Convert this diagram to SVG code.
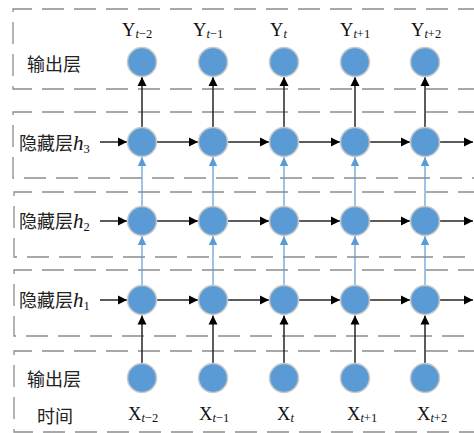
<svg xmlns="http://www.w3.org/2000/svg" width="474" height="433" viewBox="0 0 474 433">
<style>
.box{fill:none;stroke:#8c8c8c;stroke-width:1.3;stroke-dasharray:22 10}
.node{fill:#5B9BD5;stroke:#c9c9c9;stroke-width:1.5}
.blk{stroke:#262626;stroke-width:1.5;fill:none;marker-end:url(#ab)}
.blu{stroke:#5B9BD5;stroke-width:1.2;fill:none;marker-end:url(#au)}
.cjk{font-family:"Noto Sans CJK SC","Noto Sans CJK JP",sans-serif;font-size:18px;fill:#222}
.lbl{font-family:"Liberation Serif",serif;font-size:18.5px;fill:#111}
.sub{font-size:12.5px}
.it{font-style:italic}
.h{font-family:"Liberation Serif",serif;font-style:italic;font-size:21px;fill:#111}
</style>
<defs>
<marker id="ab" markerUnits="userSpaceOnUse" markerWidth="10" markerHeight="10" refX="9" refY="5" orient="auto">
<path d="M0,0.5 L9,5 L0,9.5 Z" fill="#000"/>
</marker>
<marker id="au" markerUnits="userSpaceOnUse" markerWidth="10" markerHeight="10" refX="9" refY="5" orient="auto">
<path d="M0,0.8 L9,5 L0,9.2 Z" fill="#5B9BD5"/>
</marker>
</defs>
<g id="boxes">
<path class="box" d="M480 9 H13 V89 H480"/>
<path class="box" d="M480 112 H13 V178 H480"/>
<path class="box" d="M480 192 H14 V257 H480"/>
<path class="box" d="M480 270 H14 V336 H480"/>
<path class="box" d="M480 351 H14 V432 H480"/>
</g>
<g id="labels">
<text class="cjk" x="27" y="71">输出层</text>
<text class="cjk" x="19" y="150">隐藏层<tspan class="h">h</tspan><tspan class="lbl sub" dy="3">3</tspan></text>
<text class="cjk" x="19" y="228">隐藏层<tspan class="h">h</tspan><tspan class="lbl sub" dy="3">2</tspan></text>
<text class="cjk" x="19" y="307">隐藏层<tspan class="h">h</tspan><tspan class="lbl sub" dy="3">1</tspan></text>
<text class="cjk" x="27" y="386">输出层</text>
<text class="cjk" x="37" y="423">时间</text>
</g>
<g id="ylabels">
<text class="lbl" x="122" y="36">Y<tspan class="sub" dy="2"><tspan class="it">t</tspan>−2</tspan></text>
<text class="lbl" x="193" y="36">Y<tspan class="sub" dy="2"><tspan class="it">t</tspan>−1</tspan></text>
<text class="lbl" x="270" y="36">Y<tspan class="sub it" dy="2">t</tspan></text>
<text class="lbl" x="340" y="36">Y<tspan class="sub" dy="2"><tspan class="it">t</tspan>+1</tspan></text>
<text class="lbl" x="411" y="36">Y<tspan class="sub" dy="2"><tspan class="it">t</tspan>+2</tspan></text>
</g>
<g id="xlabels">
<text class="lbl" x="128" y="420">X<tspan class="sub" dy="2"><tspan class="it">t</tspan>−2</tspan></text>
<text class="lbl" x="199" y="420">X<tspan class="sub" dy="2"><tspan class="it">t</tspan>−1</tspan></text>
<text class="lbl" x="277" y="420">X<tspan class="sub it" dy="2">t</tspan></text>
<text class="lbl" x="347" y="420">X<tspan class="sub" dy="2"><tspan class="it">t</tspan>+1</tspan></text>
<text class="lbl" x="417" y="420">X<tspan class="sub" dy="2"><tspan class="it">t</tspan>+2</tspan></text>
</g>
<g id="connectors">
<path class="blk" d="M100 142 H127"/><path class="blk" d="M157 142 H198"/><path class="blk" d="M228 142 H269"/><path class="blk" d="M299 142 H340"/><path class="blk" d="M370 142 H410"/><path class="blk" d="M440 142 H473"/>
<path class="blk" d="M100 221 H127"/><path class="blk" d="M157 221 H198"/><path class="blk" d="M228 221 H269"/><path class="blk" d="M299 221 H340"/><path class="blk" d="M370 221 H410"/><path class="blk" d="M440 221 H473"/>
<path class="blk" d="M100 300 H127"/><path class="blk" d="M157 300 H198"/><path class="blk" d="M228 300 H269"/><path class="blk" d="M299 300 H340"/><path class="blk" d="M370 300 H410"/><path class="blk" d="M440 300 H473"/>
<path class="blk" d="M142 363 V315.5"/><path class="blk" d="M213 363 V315.5"/><path class="blk" d="M284 363 V315.5"/><path class="blk" d="M355 363 V315.5"/><path class="blk" d="M425 363 V315.5"/>
<path class="blu" d="M142 285 V236"/><path class="blu" d="M213 285 V236"/><path class="blu" d="M284 285 V236"/><path class="blu" d="M355 285 V236"/><path class="blu" d="M425 285 V236"/>
<path class="blu" d="M142 206 V157"/><path class="blu" d="M213 206 V157"/><path class="blu" d="M284 206 V157"/><path class="blu" d="M355 206 V157"/><path class="blu" d="M425 206 V157"/>
<path class="blk" d="M142 127 V77"/><path class="blk" d="M213 127 V77"/><path class="blk" d="M284 127 V77"/><path class="blk" d="M355 127 V77"/><path class="blk" d="M425 127 V77"/>
</g>
<g id="y-nodes">
<circle class="node" cx="142" cy="62" r="14.5"/><circle class="node" cx="213" cy="62" r="14.5"/><circle class="node" cx="284" cy="62" r="14.5"/><circle class="node" cx="355" cy="62" r="14.5"/><circle class="node" cx="425" cy="62" r="14.5"/>
</g>
<g id="h3-nodes">
<circle class="node" cx="142" cy="142" r="14.5"/><circle class="node" cx="213" cy="142" r="14.5"/><circle class="node" cx="284" cy="142" r="14.5"/><circle class="node" cx="355" cy="142" r="14.5"/><circle class="node" cx="425" cy="142" r="14.5"/>
</g>
<g id="h2-nodes">
<circle class="node" cx="142" cy="221" r="14.5"/><circle class="node" cx="213" cy="221" r="14.5"/><circle class="node" cx="284" cy="221" r="14.5"/><circle class="node" cx="355" cy="221" r="14.5"/><circle class="node" cx="425" cy="221" r="14.5"/>
</g>
<g id="h1-nodes">
<circle class="node" cx="142" cy="300" r="14.5"/><circle class="node" cx="213" cy="300" r="14.5"/><circle class="node" cx="284" cy="300" r="14.5"/><circle class="node" cx="355" cy="300" r="14.5"/><circle class="node" cx="425" cy="300" r="14.5"/>
</g>
<g id="x-nodes">
<circle class="node" cx="142" cy="378" r="14.5"/><circle class="node" cx="213" cy="378" r="14.5"/><circle class="node" cx="284" cy="378" r="14.5"/><circle class="node" cx="355" cy="378" r="14.5"/><circle class="node" cx="425" cy="378" r="14.5"/>
</g>
</svg>
